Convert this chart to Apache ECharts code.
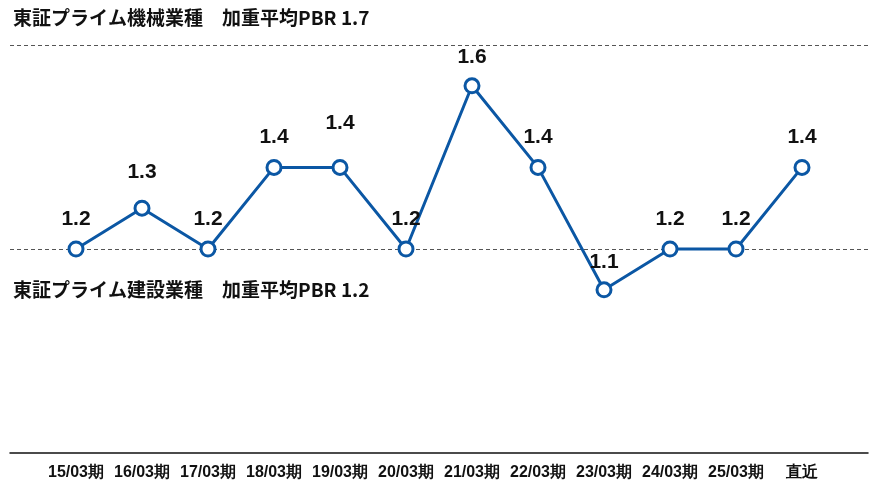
<!DOCTYPE html>
<html><head><meta charset="utf-8">
<script src="https://cdn.jsdelivr.net/npm/echarts@6/dist/echarts.min.js"></script>
<style>html,body{margin:0;padding:0;background:#fff}#c{width:880px;height:485px}</style>
</head><body><div id="c"></div>
<script>
const categories = ['15/03期','16/03期','17/03期','18/03期','19/03期','20/03期','21/03期','22/03期','23/03期','24/03期','25/03期','直近'];
const pbrValues = [1.2, 1.3, 1.2, 1.4, 1.4, 1.2, 1.6, 1.4, 1.1, 1.2, 1.2, 1.4];
const refLines = [
  {name: '東証プライム機械業種　加重平均PBR', value: 1.7},
  {name: '東証プライム建設業種　加重平均PBR', value: 1.2}
];
const labelDist = [11, 17, 11, 11, 25, 11, 10, 11, 9, 11, 11, 11];

const cats = [''].concat(categories, ['']);
const seriesData = [null].concat(pbrValues.map((v, i) => ({value: v, label: {distance: labelDist[i]}})), [null]);
const latin = 'Liberation Sans';
const chart = echarts.init(document.getElementById('c'));
chart.setOption({
  animation: false,
  grid: {left: 10, right: 12, top: 45, bottom: 32},
  xAxis: {
    type: 'category', data: cats, boundaryGap: false,
    axisLine: {lineStyle: {color: '#111', width: 1.5}},
    axisTick: {show: false},
    axisLabel: {interval: 0, color: '#111', fontSize: 16, fontWeight: 'bold', fontFamily: latin, margin: 12}
  },
  yAxis: {type: 'value', min: 0.7, max: 1.7, show: false, splitLine: {show: false}},
  series: [{
    type: 'line', data: seriesData, connectNulls: false,
    symbol: 'circle', symbolSize: 14,
    lineStyle: {color: '#0B57A4', width: 3},
    itemStyle: {color: '#fff', borderColor: '#0B57A4', borderWidth: 3},
    label: {show: true, position: 'top', color: '#111', fontSize: 21, fontWeight: 'bold', fontFamily: latin,
      formatter: p => p.value.toFixed(1)},
    markLine: {
      silent: true, symbol: 'none', z: 1,
      lineStyle: {color: '#555', type: [4, 3], width: 1},
      data: [
        {yAxis: refLines[0].value, label: {position: 'insideStartTop', distance: [3, 18], formatter: refLines[0].name + ' ' + refLines[0].value.toFixed(1)}},
        {yAxis: refLines[1].value, label: {position: 'insideStartBottom', distance: [3, 31], formatter: refLines[1].name + ' ' + refLines[1].value.toFixed(1)}}
      ],
      label: {color: '#111', fontSize: 19, fontWeight: 'bold', fontFamily: 'Noto Sans CJK JP'}
    }
  }]
});
</script></body></html>
